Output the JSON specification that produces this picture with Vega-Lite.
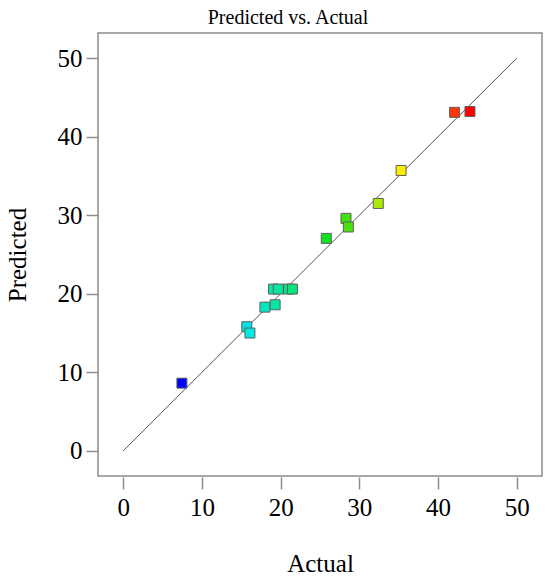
{
  "$schema": "https://vega.github.io/schema/vega-lite/v6.json",
  "width": 444,
  "height": 443,
  "autosize": "none",
  "padding": {"left": 98, "top": 33, "right": 8, "bottom": 104},
  "background": "white",
  "title": {"text": "Predicted vs. Actual", "font": "Liberation Serif", "fontSize": 20, "fontWeight": "normal", "color": "#000000", "offset": 5, "anchor": "middle", "dx": -32},
  "config": {
    "view": {"stroke": "#8c8c8c", "strokeWidth": 1.5},
    "axis": {
      "domain": false,
      "grid": false,
      "ticks": true,
      "tickColor": "#8c8c8c",
      "tickWidth": 1.5,
      "tickSize": 12,
      "labelFont": "Liberation Serif",
      "labelFontSize": 25,
      "labelColor": "#000000",
      "titleFont": "Liberation Serif",
      "titleFontSize": 25,
      "titleFontWeight": "normal",
      "titleColor": "#000000"
    },
    "axisX": {"labelPadding": 6, "titlePadding": 31, "offset": 1},
    "axisY": {"labelPadding": 4, "titlePadding": 27, "offset": 0}
  },
  "datasets": {
    "diag": [
      {"Actual": 0, "Predicted": 0},
      {"Actual": 50, "Predicted": 50}
    ],
    "points": [
      {"Actual": 7.46, "Predicted": 8.62},
      {"Actual": 15.7, "Predicted": 15.8},
      {"Actual": 16.1, "Predicted": 15.0},
      {"Actual": 18.0, "Predicted": 18.3},
      {"Actual": 19.3, "Predicted": 18.6},
      {"Actual": 19.1, "Predicted": 20.6},
      {"Actual": 19.7, "Predicted": 20.6},
      {"Actual": 21.0, "Predicted": 20.6},
      {"Actual": 21.5, "Predicted": 20.6},
      {"Actual": 25.8, "Predicted": 27.05},
      {"Actual": 28.3, "Predicted": 29.6},
      {"Actual": 28.6, "Predicted": 28.5},
      {"Actual": 32.4, "Predicted": 31.5},
      {"Actual": 35.3, "Predicted": 35.7},
      {"Actual": 42.1, "Predicted": 43.1},
      {"Actual": 44.05, "Predicted": 43.2}
    ]
  },
  "encoding": {
    "x": {"field": "Actual", "type": "quantitative", "scale": {"domain": [-3.2, 53.2], "nice": false, "zero": false}, "axis": {"values": [0, 10, 20, 30, 40, 50], "title": "Actual"}},
    "y": {"field": "Predicted", "type": "quantitative", "scale": {"domain": [-3.2, 53.2], "nice": false, "zero": false}, "axis": {"values": [0, 10, 20, 30, 40, 50], "title": "Predicted"}}
  },
  "layer": [
    {
      "data": {"name": "diag"},
      "mark": {"type": "line", "color": "#555555", "strokeWidth": 1}
    },
    {
      "data": {"name": "points"},
      "mark": {"type": "square", "size": 100, "filled": true, "opacity": 1, "stroke": "#606060", "strokeWidth": 1},
      "encoding": {
        "color": {"field": "Actual", "type": "quantitative", "scale": {"domain": [7.46, 16.0, 26.5, 35.5, 44.05], "range": ["#0000ff", "#00e8e8", "#10e010", "#ffee00", "#ff0000"], "interpolate": "rgb"}, "legend": null}
      }
    }
  ]
}
